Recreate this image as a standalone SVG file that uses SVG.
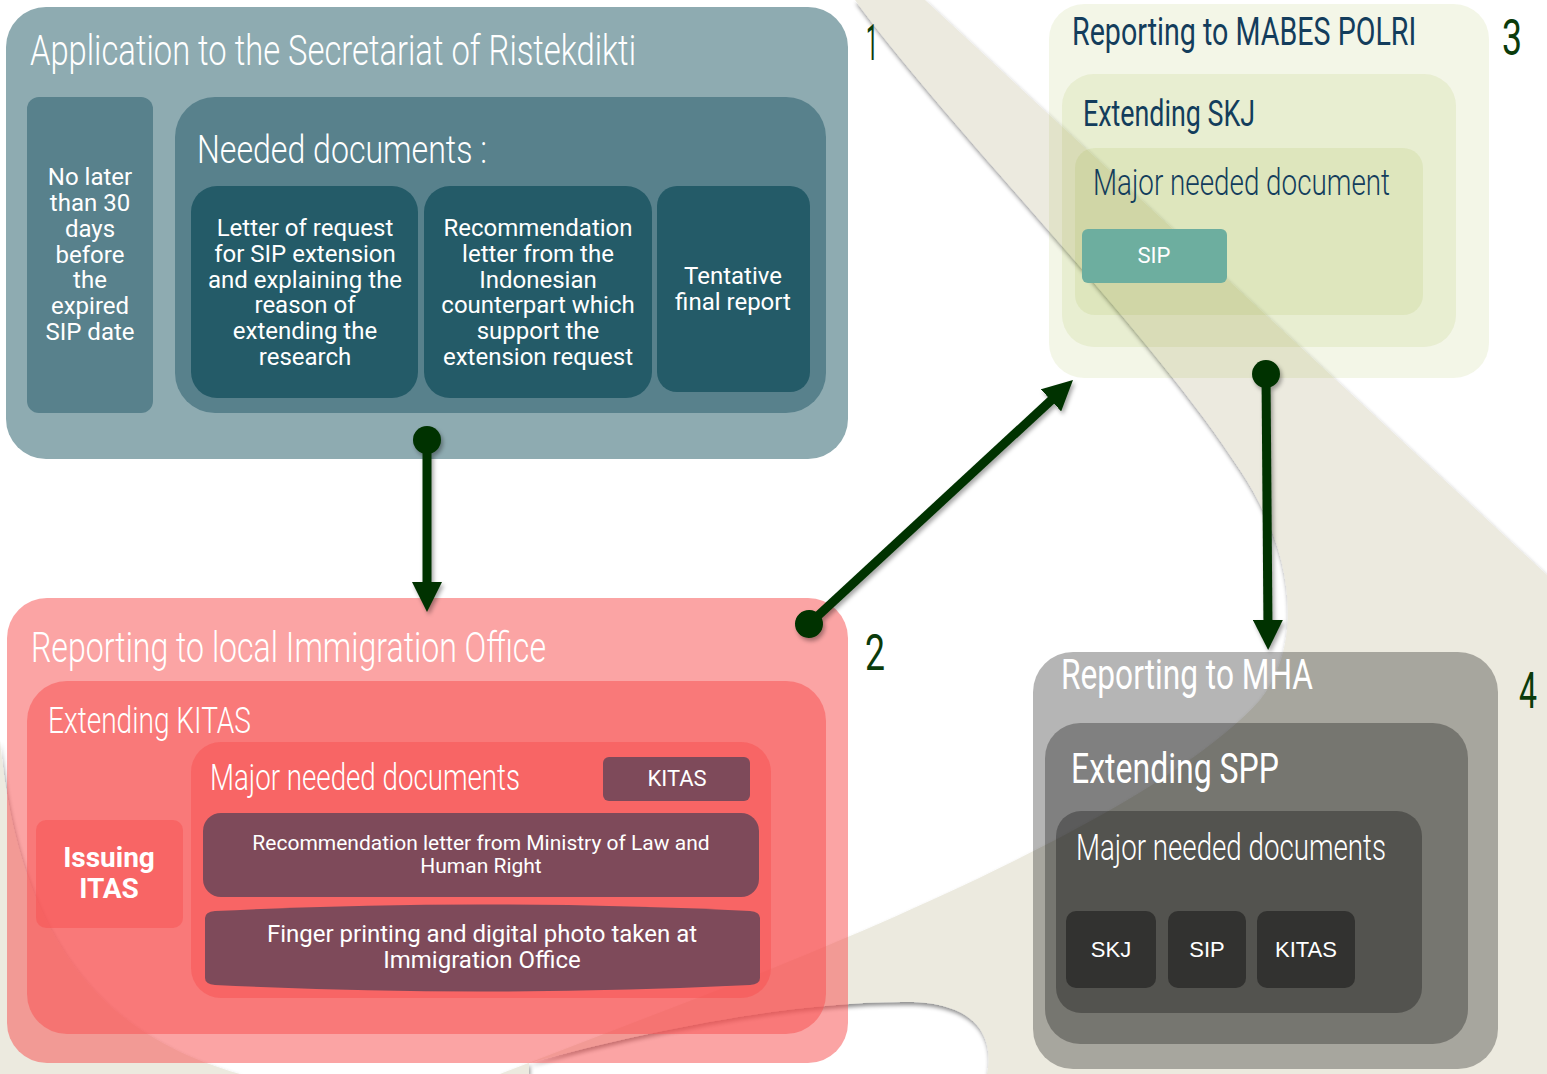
<svg xmlns="http://www.w3.org/2000/svg" width="1547" height="1074" viewBox="0 0 1547 1074">
<defs>
<style>
.ttl{font-family:Roboto,"Liberation Sans",sans-serif;font-weight:300;fill:#fff}
.navy{fill:#133D5C}
.body{font-family:Roboto,"Liberation Sans",sans-serif;font-size:24px;fill:#fff;text-anchor:middle}
.btn{font-family:"Liberation Sans",Arial,sans-serif;font-size:22px;fill:#fff;text-anchor:middle}
.num{font-family:Roboto,"Liberation Sans",sans-serif;font-weight:400;font-size:50px;fill:#0B3B0B;text-anchor:middle}
.pink{fill:#F75454;fill-opacity:0.53}
.green{fill:#85A616;fill-opacity:0.1}
.gray{fill:#000;fill-opacity:0.29}
.teal1{fill:#8EABB1}
.teal2{fill:#58818C}
.teal3{fill:#245B68}
.mauve{fill:#7E4A5A}
.conn{fill:none;stroke:#033303;stroke-width:9}
</style>
<filter id="bgShadow" filterUnits="userSpaceOnUse" x="0" y="0" width="1547" height="1074">
<feDropShadow dx="1" dy="3" stdDeviation="2" flood-color="#000" flood-opacity="0.45"/>
</filter>
<filter id="cShadow" x="-20%" y="-20%" width="140%" height="140%">
<feDropShadow dx="2" dy="3" stdDeviation="2" flood-color="#000" flood-opacity="0.35"/>
</filter>
<marker id="arrowhead" markerUnits="userSpaceOnUse" markerWidth="30" markerHeight="30" viewBox="0 0 30 30" refX="10" refY="15" orient="auto">
<path d="M0,0 L30,15 L0,30 Z" fill="#033303"/>
</marker>
<marker id="dot" markerUnits="userSpaceOnUse" markerWidth="30" markerHeight="30" viewBox="0 0 30 30" refX="15" refY="15" orient="auto">
<circle cx="15" cy="15" r="14" fill="#033303"/>
</marker>
</defs>

<rect x="0" y="0" width="1547" height="1074" fill="#fff"/>
<path id="background" fill="#ECEADF" fill-rule="evenodd" filter="url(#bgShadow)" d="M0,0 H1547 V1074 H0 Z M925,0 H1547 V575 Z M0,0 H855 C950,130 1150,330 1240,470 C1300,560 1300,650 1260,700 C1180,790 950,900 700,997 L500,1074 H240 C120,1040 20,960 0,740 Z M529,1063 C650,1030 800,1000 913,1002 C990,1005 992,1050 987,1074 H529 Z"/>

<g id="node-ristekdikti">
<rect class="teal1" x="6" y="7" width="842" height="452" rx="40"/>
<text class="ttl" x="30" y="65" font-size="42" textLength="606" lengthAdjust="spacingAndGlyphs">Application to the Secretariat of Ristekdikti</text>
<rect class="teal2" x="27" y="97" width="126" height="316" rx="12"/>
<text class="body" x="90" y="185">No later</text>
<text class="body" x="90" y="211">than 30</text>
<text class="body" x="90" y="237">days</text>
<text class="body" x="90" y="263">before</text>
<text class="body" x="90" y="288">the</text>
<text class="body" x="90" y="314">expired</text>
<text class="body" x="90" y="340">SIP date</text>
<rect class="teal2" x="175" y="97" width="651" height="316" rx="40"/>
<text class="ttl" x="197" y="163" font-size="39" textLength="290" lengthAdjust="spacingAndGlyphs">Needed documents :</text>
<rect class="teal3" x="191" y="186" width="227" height="212" rx="26"/>
<text class="body" x="305" y="236">Letter of request</text>
<text class="body" x="305" y="262">for SIP extension</text>
<text class="body" x="305" y="288">and explaining the</text>
<text class="body" x="305" y="313">reason of</text>
<text class="body" x="305" y="339">extending the</text>
<text class="body" x="305" y="365">research</text>
<rect class="teal3" x="424" y="186" width="228" height="212" rx="26"/>
<text class="body" x="538" y="236">Recommendation</text>
<text class="body" x="538" y="262">letter from the</text>
<text class="body" x="538" y="288">Indonesian</text>
<text class="body" x="538" y="313">counterpart which</text>
<text class="body" x="538" y="339">support the</text>
<text class="body" x="538" y="365">extension request</text>
<rect class="teal3" x="657" y="186" width="153" height="206" rx="20"/>
<text class="body" x="733" y="284">Tentative</text>
<text class="body" x="733" y="310">final report</text>
</g>

<g id="node-immigration">
<rect class="pink" x="7" y="598" width="841" height="465" rx="40"/>
<text class="ttl" x="31" y="662" font-size="42" textLength="515" lengthAdjust="spacingAndGlyphs">Reporting to local Immigration Office</text>
<rect class="pink" x="27" y="681" width="799" height="353" rx="40"/>
<text class="ttl" x="48" y="733" font-size="36" textLength="203" lengthAdjust="spacingAndGlyphs">Extending KITAS</text>
<rect class="pink" x="36" y="820" width="147" height="108" rx="10"/>
<text class="body" x="109" y="867" font-weight="700" style="font-size:28px">Issuing</text>
<text class="body" x="109" y="898" font-weight="700" style="font-size:28px">ITAS</text>
<rect class="pink" x="191" y="742" width="580" height="256" rx="30"/>
<text class="ttl" x="210" y="790" font-size="36" textLength="310" lengthAdjust="spacingAndGlyphs">Major needed documents</text>
<rect class="mauve" x="603" y="757" width="147" height="44" rx="6"/>
<text class="body" x="677" y="786" style="font-size:22px">KITAS</text>
<rect class="mauve" x="203" y="813" width="556" height="84" rx="18"/>
<text class="body" x="481" y="850" style="font-size:21px">Recommendation letter from Ministry of Law and</text>
<text class="body" x="481" y="873" style="font-size:21px">Human Right</text>
<path class="mauve" d="M205,918 Q205,912 215,911 Q482,898 750,911 Q760,912 760,918 L760,978 Q760,984 750,985 Q482,998 215,985 Q205,984 205,978 Z"/>
<text class="body" x="482" y="942">Finger printing and digital photo taken at</text>
<text class="body" x="482" y="968">Immigration Office</text>
</g>

<g id="node-mabes">
<rect class="green" x="1049" y="4" width="440" height="374" rx="35"/>
<text class="ttl navy" transform="translate(1072,45) scale(0.75,1)" x="0" y="0" font-size="38" textLength="459" lengthAdjust="spacingAndGlyphs" style="font-weight:400">Reporting to MABES POLRI</text>
<rect class="green" x="1062" y="74" width="394" height="273" rx="32"/>
<text class="ttl navy" x="1083" y="126" font-size="36" textLength="172" lengthAdjust="spacingAndGlyphs" style="font-weight:400">Extending SKJ</text>
<rect class="green" x="1075" y="148" width="348" height="167" rx="20"/>
<text class="ttl navy" x="1093" y="195" font-size="37" textLength="297" lengthAdjust="spacingAndGlyphs">Major needed document</text>
<rect x="1082" y="229" width="145" height="54" rx="6" fill="#6DAE9F"/>
<text class="body" x="1154" y="263" style="font-size:22px">SIP</text>
</g>

<g id="node-mha">
<rect class="gray" x="1033" y="652" width="465" height="417" rx="40"/>
<text class="ttl" x="1061" y="689" font-size="42" textLength="252" lengthAdjust="spacingAndGlyphs" style="font-weight:400">Reporting to MHA</text>
<rect class="gray" x="1045" y="723" width="423" height="321" rx="35"/>
<text class="ttl" x="1071" y="783" font-size="42" textLength="208" lengthAdjust="spacingAndGlyphs" style="font-weight:400">Extending SPP</text>
<rect class="gray" x="1056" y="811" width="366" height="202" rx="25"/>
<text class="ttl" x="1076" y="860" font-size="36" textLength="310" lengthAdjust="spacingAndGlyphs">Major needed documents</text>
<rect x="1066" y="911" width="90" height="77" rx="10" fill="#323230"/>
<text class="btn" x="1111" y="957">SKJ</text>
<rect x="1168" y="911" width="78" height="77" rx="10" fill="#323230"/>
<text class="btn" x="1207" y="957">SIP</text>
<rect x="1257" y="911" width="98" height="77" rx="10" fill="#323230"/>
<text class="btn" x="1306" y="957">KITAS</text>
</g>

<g id="connectors" filter="url(#cShadow)">
<path class="conn" d="M427,440 L427,592" marker-start="url(#dot)" marker-end="url(#arrowhead)"/>
<path class="conn" d="M809,624 L1058.3,393.6" marker-start="url(#dot)" marker-end="url(#arrowhead)"/>
<path class="conn" d="M1266,374 L1268,630" marker-start="url(#dot)" marker-end="url(#arrowhead)"/>
</g>

<g id="step-numbers">
<text class="num" x="872" y="60" textLength="12" lengthAdjust="spacingAndGlyphs">1</text>
<text class="num" x="875" y="670" textLength="20" lengthAdjust="spacingAndGlyphs">2</text>
<text class="num" x="1512" y="55" textLength="20" lengthAdjust="spacingAndGlyphs">3</text>
<text class="num" x="1528" y="708" textLength="18" lengthAdjust="spacingAndGlyphs">4</text>
</g>
</svg>
